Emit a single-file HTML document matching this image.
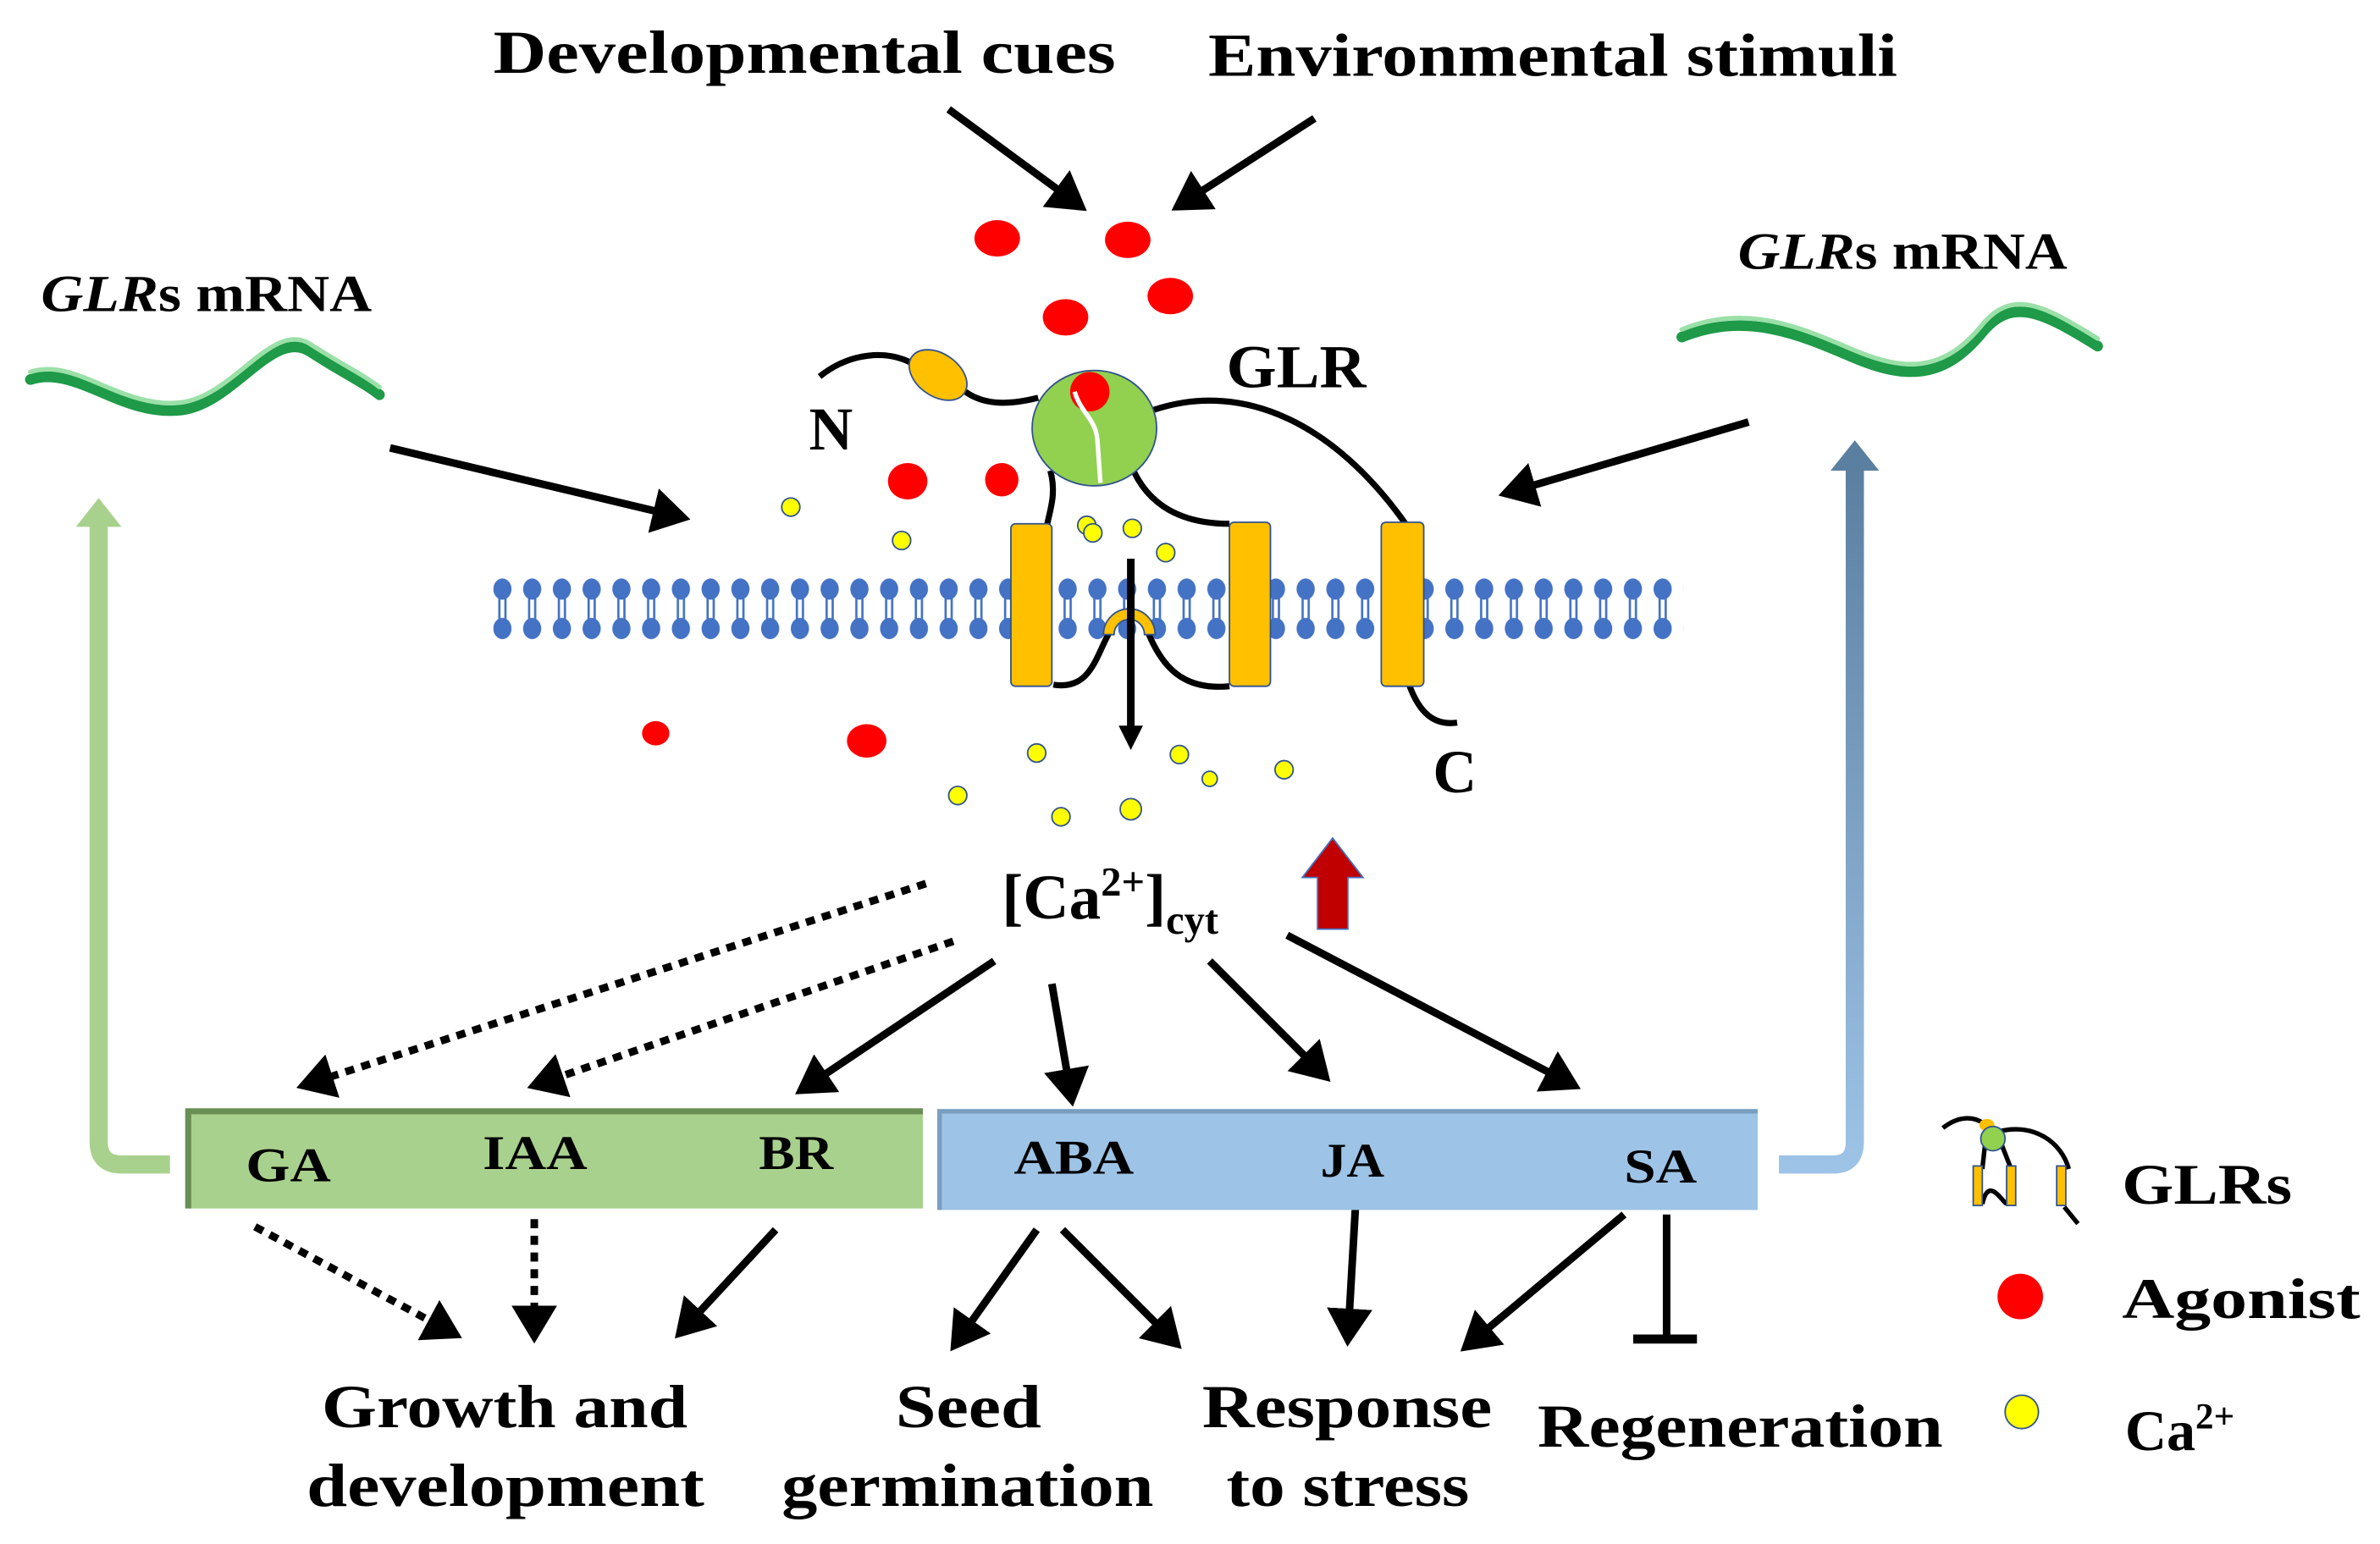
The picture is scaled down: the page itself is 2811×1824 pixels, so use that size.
<!DOCTYPE html>
<html><head><meta charset="utf-8"><style>
html,body{margin:0;padding:0;background:#fff}
svg{display:block}
text{font-family:"Liberation Serif",serif;font-weight:bold;fill:#000}
</style></head><body>
<svg width="2811" height="1824" viewBox="0 0 1568 1017" preserveAspectRatio="none" xmlns="http://www.w3.org/2000/svg">
<defs>
<marker id="ah" markerWidth="6" markerHeight="6" refX="4" refY="3" orient="auto" markerUnits="strokeWidth">
<path d="M0,0 L5,3 L0,6 Z" fill="#000"/></marker>
<pattern id="mem" x="325" y="376" width="19.6" height="50" patternUnits="userSpaceOnUse">
<ellipse cx="6" cy="12" rx="6" ry="7" fill="#4472c4"/>
<ellipse cx="6" cy="38" rx="6" ry="7" fill="#4472c4"/>
<line x1="4" y1="18" x2="4" y2="32" stroke="#4472c4" stroke-width="1.5"/>
<line x1="8" y1="18" x2="8" y2="32" stroke="#4472c4" stroke-width="1.5"/>
</pattern>
<linearGradient id="bg" x1="0" y1="1" x2="0" y2="0">
<stop offset="0" stop-color="#9dc3e6"/><stop offset="1" stop-color="#5b7fa0"/></linearGradient>
</defs>

<text x="325" y="48" font-size="40" textLength="410" lengthAdjust="spacingAndGlyphs">Developmental cues</text>
<text x="796" y="50" font-size="40" textLength="454" lengthAdjust="spacingAndGlyphs">Environmental stimuli</text>
<text x="27" y="205" font-size="34" textLength="218" lengthAdjust="spacingAndGlyphs"><tspan font-style="italic">GLR</tspan>s mRNA</text>
<text x="1145" y="177" font-size="34" textLength="217" lengthAdjust="spacingAndGlyphs"><tspan font-style="italic">GLR</tspan>s mRNA</text>

<!-- mRNA ribbons -->
<g fill="none" stroke-linecap="round">
<path d="M20,250 C50,240 80,275 120,270 C155,265 180,215 205,232 C225,245 240,252 250,260" stroke="#1e9a48" stroke-width="7"/>
<path d="M20,245 C50,235 80,270 120,265 C155,260 180,210 205,227 C225,240 240,247 250,255" stroke="#9be0a8" stroke-width="3"/>
<path d="M1108,222 C1150,205 1185,220 1220,235 C1255,250 1280,250 1305,220 C1325,195 1345,205 1382,228" stroke="#1e9a48" stroke-width="7"/>
<path d="M1108,217 C1150,200 1185,215 1220,230 C1255,245 1280,245 1305,215 C1325,190 1345,200 1382,223" stroke="#9be0a8" stroke-width="3"/>
</g>

<!-- membrane -->
<rect x="325" y="376" width="784" height="50" fill="url(#mem)"/>

<!-- protein -->
<g fill="none" stroke="#000" stroke-width="4">
<path d="M540,248 C560,232 585,230 602,240"/>
<path d="M636,258 C650,268 668,266 684,262"/>
<path d="M760,270 C820,250 880,280 926,345"/>
<path d="M692,310 C696,325 692,335 690,345"/>
<path d="M743,300 C752,330 775,345 810,345"/>
<path d="M694,451 C720,455 722,430 733,413"/>
<path d="M755,413 C765,440 780,455 810,452"/>
<path d="M928,450 C935,470 945,478 960,476"/>
</g>
<ellipse cx="618" cy="247" rx="21" ry="14" transform="rotate(35 618 247)" fill="#ffc000" stroke="#2f528f" stroke-width="1"/>
<ellipse cx="721" cy="282" rx="41" ry="38" fill="#92d050" stroke="#2f528f" stroke-width="1"/>
<ellipse cx="718" cy="258" rx="13" ry="13" fill="#f00"/>
<path d="M708,258 C712,272 722,276 723,290 L725,318" fill="none" stroke="#fff" stroke-width="3"/>
<rect x="666" y="345" width="27" height="107" rx="3" fill="#ffc000" stroke="#2f528f" stroke-width="1"/>
<rect x="810" y="344" width="27" height="108" rx="3" fill="#ffc000" stroke="#2f528f" stroke-width="1"/>
<rect x="910" y="344" width="28" height="108" rx="3" fill="#ffc000" stroke="#2f528f" stroke-width="1"/>
<path d="M727,418 A17,17 0 0 1 761,418 L754,418 A10,10 0 0 0 734,418 Z" fill="#ffc000" stroke="#2f528f" stroke-width="1"/>
<line x1="745" y1="368" x2="745" y2="480" stroke="#000" stroke-width="5"/>
<path d="M737,478 L753,478 L745,494 Z" fill="#000"/>

<text x="808" y="255" font-size="40" textLength="92" lengthAdjust="spacingAndGlyphs">GLR</text>
<text x="533" y="296" font-size="40">N</text>
<text x="944" y="522" font-size="40">C</text>

<!-- red agonists -->
<g fill="#f00">
<ellipse cx="657" cy="157" rx="15" ry="12"/><ellipse cx="743" cy="158" rx="15" ry="12"/>
<ellipse cx="771" cy="195" rx="15" ry="12"/><ellipse cx="702" cy="209" rx="15" ry="12"/>
<ellipse cx="598" cy="317" rx="13" ry="12"/><ellipse cx="660" cy="316" rx="11" ry="11"/>
<ellipse cx="432" cy="483" rx="9" ry="8"/><ellipse cx="571" cy="488" rx="13" ry="11"/>
<circle cx="1331" cy="854" r="15"/>
</g>
<g fill="#ff0" stroke="#2f528f" stroke-width="1">
<circle cx="521" cy="334" r="6"/><circle cx="594" cy="356" r="6"/><circle cx="716" cy="346" r="6"/>
<circle cx="720" cy="351" r="6"/><circle cx="746" cy="348" r="6"/><circle cx="768" cy="364" r="6"/>
<circle cx="683" cy="496" r="6"/><circle cx="777" cy="497" r="6"/><circle cx="797" cy="513" r="5"/>
<circle cx="846" cy="507" r="6"/><circle cx="631" cy="524" r="6"/><circle cx="699" cy="538" r="6"/>
<circle cx="745" cy="533" r="7"/><circle cx="1332" cy="930" r="11"/>
</g>

<text x="660" y="605" font-size="42">[Ca<tspan font-size="27" dy="-15">2+</tspan><tspan dy="15">]</tspan><tspan font-size="27" dy="10">cyt</tspan></text>
<path d="M878,552 L898,578 L888,578 L888,612 L868,612 L868,578 L858,578 Z" fill="#c00000" stroke="#4472c4" stroke-width="1"/>

<!-- arrows -->
<g stroke="#000" stroke-width="5" fill="none" marker-end="url(#ah)">
<line x1="625" y1="72" x2="712" y2="136"/>
<line x1="866" y1="78" x2="776" y2="136"/>
<line x1="257" y1="295" x2="450" y2="341"/>
<line x1="1152" y1="278" x2="992" y2="325"/>
<line x1="655" y1="633" x2="528" y2="718"/>
<line x1="693" y1="648" x2="706" y2="724"/>
<line x1="797" y1="633" x2="873" y2="709"/>
<line x1="848" y1="616" x2="1037" y2="715"/>
<line x1="511" y1="810" x2="448" y2="878"/>
<line x1="683" y1="810" x2="629" y2="886"/>
<line x1="700" y1="810" x2="775" y2="885"/>
<line x1="893" y1="795" x2="888" y2="882"/>
<line x1="1070" y1="800" x2="966" y2="887"/>
</g>
<g stroke="#000" stroke-width="5" fill="none" stroke-dasharray="6,5" marker-end="url(#ah)">
<line x1="610" y1="582" x2="200" y2="715"/>
<line x1="628" y1="620" x2="352" y2="715"/>
<line x1="168" y1="808" x2="300" y2="879"/>
<line x1="352" y1="803" x2="352" y2="880"/>
</g>
<line x1="1098" y1="800" x2="1098" y2="882" stroke="#000" stroke-width="5"/>
<line x1="1076" y1="882" x2="1118" y2="882" stroke="#000" stroke-width="6"/>

<!-- side arrows -->
<path d="M112,767 L80,767 Q65,767 65,752 L65,345" fill="none" stroke="#a9d18e" stroke-width="12"/>
<path d="M50,347 L65,328 L80,347 Z" fill="#a9d18e"/>
<path d="M1172,767 L1208,767 Q1222,767 1222,752 L1222,308" fill="none" stroke="url(#bg)" stroke-width="12"/>
<path d="M1206,310 L1222,290 L1238,310 Z" fill="#5b7fa0"/>

<!-- boxes -->
<rect x="124" y="732" width="484" height="64" fill="#a9d18e"/>
<path d="M124,796 L124,732 L608,732" fill="none" stroke="#6a8f55" stroke-width="4"/>
<rect x="619" y="732" width="539" height="65" fill="#9dc3e6"/>
<path d="M619,797 L619,732 L1158,732" fill="none" stroke="#7a9ebf" stroke-width="3"/>
<g font-size="32">
<text x="162" y="778" textLength="56" lengthAdjust="spacingAndGlyphs">GA</text>
<text x="318" y="770" textLength="69" lengthAdjust="spacingAndGlyphs">IAA</text>
<text x="500" y="770" textLength="49" lengthAdjust="spacingAndGlyphs">BR</text>
<text x="668" y="773" textLength="79" lengthAdjust="spacingAndGlyphs">ABA</text>
<text x="870" y="775" textLength="42" lengthAdjust="spacingAndGlyphs">JA</text>
<text x="1070" y="779" textLength="48" lengthAdjust="spacingAndGlyphs">SA</text>
</g>

<g font-size="40">
<text x="212" y="940" textLength="241" lengthAdjust="spacingAndGlyphs">Growth and</text>
<text x="202" y="992" textLength="262" lengthAdjust="spacingAndGlyphs">development</text>
<text x="590" y="940" textLength="96" lengthAdjust="spacingAndGlyphs">Seed</text>
<text x="515" y="992" textLength="245" lengthAdjust="spacingAndGlyphs">germination</text>
<text x="792" y="940" textLength="191" lengthAdjust="spacingAndGlyphs">Response</text>
<text x="808" y="992" textLength="160" lengthAdjust="spacingAndGlyphs">to stress</text>
<text x="1013" y="953" textLength="267" lengthAdjust="spacingAndGlyphs">Regeneration</text>
</g>

<!-- legend -->
<g fill="none" stroke="#000" stroke-width="3">
<path d="M1280,743 C1290,735 1300,735 1307,740"/>
<path d="M1318,745 C1340,740 1358,752 1363,770"/>
<path d="M1306,793 C1310,775 1318,790 1322,793"/>
<path d="M1308,752 L1306,770"/><path d="M1318,752 L1325,770"/>
<path d="M1360,795 L1369,806"/>
</g>
<ellipse cx="1309" cy="741" rx="5" ry="4" fill="#ffc000"/>
<circle cx="1313" cy="750" r="8" fill="#92d050" stroke="#2f528f"/>
<rect x="1300" y="768" width="6" height="26" fill="#ffc000" stroke="#2f528f"/>
<rect x="1322" y="768" width="6" height="26" fill="#ffc000" stroke="#2f528f"/>
<rect x="1355" y="768" width="6" height="26" fill="#ffc000" stroke="#2f528f"/>
<text x="1398" y="793" font-size="38" textLength="112" lengthAdjust="spacingAndGlyphs">GLRs</text>
<text x="1398" y="868" font-size="38" textLength="157" lengthAdjust="spacingAndGlyphs">Agonist</text>
<text x="1400" y="955" font-size="38">Ca<tspan font-size="24" dy="-14">2+</tspan></text>
</svg>
</body></html>
